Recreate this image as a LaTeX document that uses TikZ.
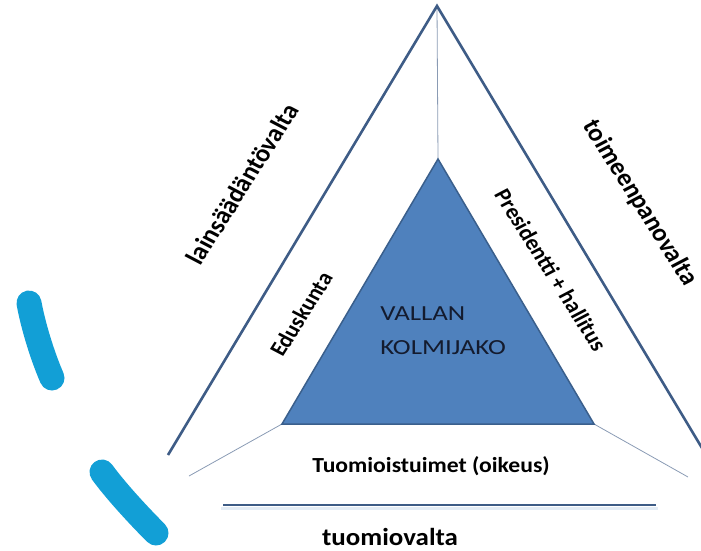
\documentclass[tikz,border=0pt]{standalone}
\usepackage{fontspec}
\setmainfont{Carlito}
\definecolor{outerline}{HTML}{3E5C86}
\definecolor{thinline}{HTML}{8A9BB4}
\definecolor{innerfill}{HTML}{4F81BD}
\definecolor{innerdraw}{HTML}{3A5F8C}
\definecolor{stroke}{HTML}{129FD6}
\definecolor{navytext}{HTML}{141B2E}
\definecolor{glow}{HTML}{E3ECF5}
\tikzset{
  outer/.style={draw=outerline, line width=2.6pt},
  thin/.style={draw=thinline, line width=0.8pt},
  innerlabel/.style={font=\bfseries\fontsize{21.5}{24}\selectfont, inner sep=0pt},
  outerlabel/.style={font=\bfseries\fontsize{24.5}{28}\selectfont, inner sep=0pt},
  centerlabel/.style={font=\fontsize{21.5}{26}\selectfont, text=navytext, inner sep=0pt, anchor=base west, xscale=1.25},
  brush/.style={draw=stroke, line width=25pt, line cap=round}
}
\begin{document}
\begin{tikzpicture}[x=1pt,y=-1pt]
\useasboundingbox (0,0) rectangle (701,551);
% coordinates
\coordinate (A) at (437,6);
\coordinate (L) at (168,455);
\coordinate (R) at (702,448);
\coordinate (B1) at (223,505);
\coordinate (B2) at (656,505);
\coordinate (G1) at (221,508);
\coordinate (G2) at (658,508);
\coordinate (IA) at (438,159);
\coordinate (IL) at (282,424);
\coordinate (IR) at (594,424);
\coordinate (TL) at (189,476);
\coordinate (TR) at (688,477);
% thin lines
\draw[thin] (A) -- (IA);
\draw[thin] (IL) -- (TL);
\draw[thin] (IR) -- (TR);
% outer lines
\draw[outer] (L) -- (A) -- (R);
\draw[draw=glow, line width=3pt] (G1) -- (G2);
\draw[outer] (B1) -- (B2);
% inner triangle
\draw[fill=innerfill, draw=innerdraw, line width=1.5pt, line join=miter] (IA) -- (IR) -- (IL) -- cycle;
% labels
\node[centerlabel] (vallan) at (380,320) {VALLAN};
\node[centerlabel] (kolmi) at (380,354) {KOLMIJAKO};
\node[outerlabel, shift={(242,184)}, xscale=1.1, rotate=60] (lains) at (0,0) {lainsäädäntövalta};
\node[innerlabel, shift={(301,314)}, xscale=1.1, rotate=60] (edus) at (0,0) {Eduskunta};
\node[outerlabel, shift={(640,203)}, xscale=1.1, rotate=-60] (toim) at (0,0) {toimeenpanovalta};
\node[innerlabel, shift={(551,270)}, xscale=1.1, rotate=-60] (pres) at (0,0) {Presidentti + hallitus};
\node[innerlabel, xscale=1.1] (tuom) at (431,466) {Tuomioistuimet (oikeus)};
\node[outerlabel, xscale=1.1] (tval) at (390,537) {tuomiovalta};
% blue brush strokes
\draw[brush] (29,303) .. controls (33,325) and (42,355) .. (52,378);
\draw[brush] (102,472) .. controls (115,490) and (138,515) .. (156,533);
\end{tikzpicture}
\end{document}
